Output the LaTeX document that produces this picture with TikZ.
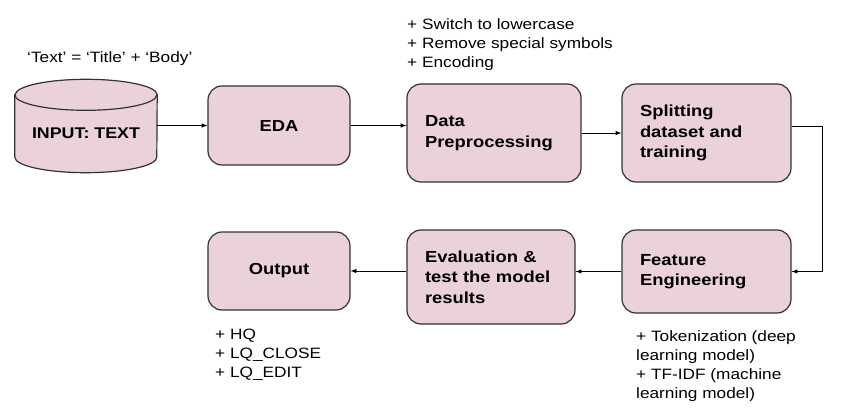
\documentclass[tikz,border=0pt]{standalone}
\usepackage{fontspec}
\setmainfont{Liberation Sans}[FakeStretch=1.15]
\definecolor{boxpink}{HTML}{EAD1DC}
\definecolor{boxline}{HTML}{333333}
\tikzset{
  stagebox/.style={draw=boxline, line width=1.2pt, fill=boxpink, rounded corners=14pt,
    font=\fontsize{16}{20.5}\selectfont\bfseries, inner sep=0pt},
  leftbox/.style={stagebox, align=left, text width=#1},
  cylbody/.style={draw=boxline, line width=1.2pt, fill=boxpink},
  notes/.style={font=\fontsize{15}{19}\selectfont, align=left, anchor=north west, inner sep=0pt},
  flow/.style={-latex, line width=1pt}
}
\begin{document}
\begin{tikzpicture}[x=1pt, y=-1pt]
        \useasboundingbox (0,0) rectangle (841,412);
        % input database
        \node [minimum width=142pt, minimum height=93pt, inner sep=0pt] (input) at (86,126) {};
        \draw [cylbody] ([yshift=-15.5pt]input.north west) -- ([yshift=15.5pt]input.south west)
              arc [start angle=180, end angle=360, x radius=71pt, y radius=15.5pt]
              -- ([yshift=-15.5pt]input.north east)
              arc [start angle=0, end angle=180, x radius=71pt, y radius=15.5pt] -- cycle;
        \draw [cylbody, fill=none] ([yshift=-15.5pt]input.north west)
              arc [start angle=180, end angle=360, x radius=71pt, y radius=15.5pt];
        \node [font=\fontsize{15.5}{20}\selectfont\bfseries] (inputtext) at ([yshift=-7pt]input.center) {INPUT: TEXT};
        % main stages
        \node [stagebox, minimum width=142pt, minimum height=79pt] (eda) at (279,125.5) {EDA};
        \node [leftbox=138pt, minimum width=174pt, minimum height=98pt] (prep) at (494,133) {Data\\Preprocessing};
        \node [leftbox=133pt, minimum width=169pt, minimum height=98pt] (split) at (706.5,133) {Splitting\\dataset and\\training};
        \node [leftbox=133pt, minimum width=169pt, minimum height=83pt] (feat) at (706.5,271.5) {Feature\\Engineering};
        \node [leftbox=132pt, minimum width=168pt, minimum height=94pt] (eval) at (491,277) {Evaluation \&\\test the model\\results};
        \node [stagebox, minimum width=142pt, minimum height=78pt] (out) at (279,271) {Output};
        % notes
        \node [notes] (textnote) at (27,51) {`Text' = `Title' + `Body'};
        \node [notes] (prepnote) at (407,18) {+ Switch to lowercase\\+ Remove special symbols\\+ Encoding};
        \node [notes] (outnote) at (215,329) {+ HQ\\+ LQ\_CLOSE\\+ LQ\_EDIT};
        \node [notes] (featnote) at (636,330) {+ Tokenization (deep\\learning model)\\+ TF-IDF (machine\\learning model)};
        % arrows
        \draw [flow] (input.east |- eda.west) -- (eda.west);
        \draw [flow] (eda.east) -- (eda.east -| prep.west);
        \draw [flow] (prep.east) -- (split.west);
        \draw [flow] (split.east) ++(0,-7) -- ++(31,0) |- (feat.east);
        \draw [flow] (feat.west) -- (feat.west -| eval.east);
        \draw [flow] (eval.west |- out.east) -- (out.east);
    \end{tikzpicture}
\end{document}
